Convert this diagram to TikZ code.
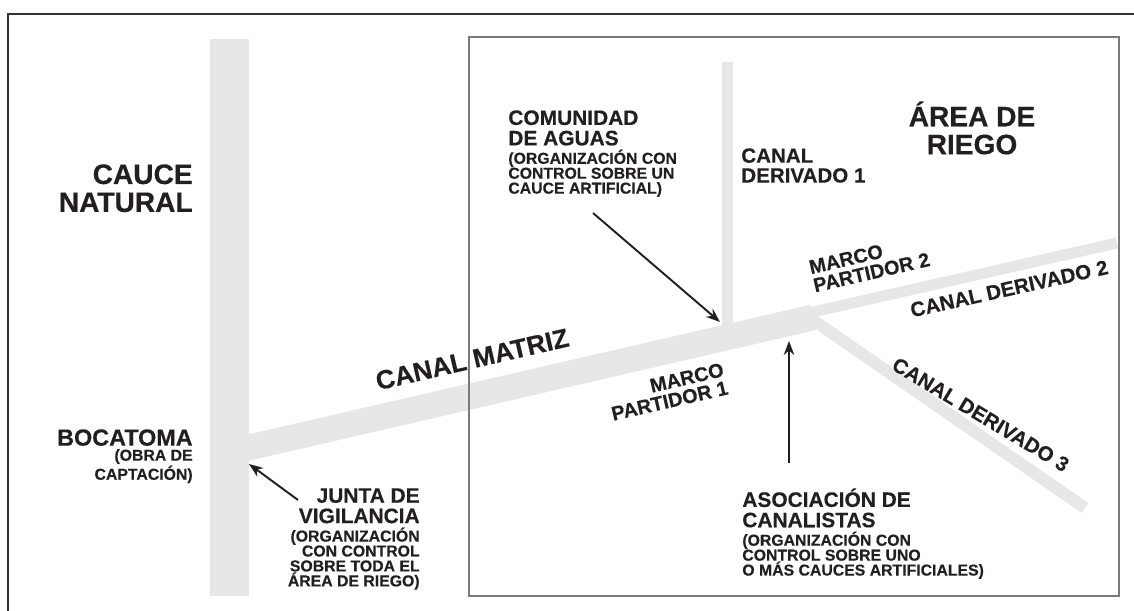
\documentclass[tikz,border=0pt]{standalone}
\usepackage{fontspec}
\setmainfont{Liberation Sans}[BoldFeatures={FakeBold=0.4}]
\usetikzlibrary{positioning,arrows.meta}
\definecolor{canalgray}{HTML}{E6E7E8}
\definecolor{boxgray}{HTML}{7A7A7A}
\definecolor{framedark}{HTML}{333333}
\definecolor{ink}{HTML}{231F20}
\tikzset{
  canal/.style={draw=canalgray,line cap=butt},
  bigtxt/.style={inner sep=0pt,text=ink,font=\fontsize{16}{15.9}\selectfont\bfseries},
  headtxt/.style={inner sep=0pt,text=ink,font=\fontsize{11.9}{11.6}\selectfont\bfseries},
  notetxt/.style={inner sep=0pt,text=ink,font=\fontsize{9}{8.5}\selectfont\bfseries},
  chantxt/.style={inner sep=0pt,text=ink,font=\fontsize{11.7}{11.3}\selectfont\bfseries},
  pointer/.style={-{Stealth[length=8pt,width=6pt]},line width=1.1pt,draw=ink},
}
\begin{document}
\begin{tikzpicture}[x=0.02cm,y=-0.02cm]
\useasboundingbox (0,0) rectangle (1134,611);
% outer frame (only top and left show)
\draw[framedark,line width=1.4pt] (1140,14) -- (8,14) -- (8,620);

% canals
\draw[canal,line width=22.1pt] (229.5,39) -- (229.5,596);
\draw[canal,line width=14.7pt] (240,449.6) -- (813,317.5);
\draw[canal,line width=6.8pt] (727.5,62) -- (727.5,332);
\draw[canal,line width=6.2pt] (810,312.7) -- (1117,243);
\draw[canal,line width=6.8pt] (810,318) -- (1085,508);

% irrigated area
\draw[boxgray,line width=0.85pt] (469,37) rectangle (1119,596);

% points on the canals
\coordinate (toma) at (249,464);
\coordinate (mp1) at (720,322);
\coordinate (mp2) at (789,341);

% labels
\node[bigtxt,anchor=north east,align=right] (cauce) at (193,164) {CAUCE\\NATURAL};
\node[bigtxt,anchor=north,align=center] (area) at (972,101) {ÁREA DE\\RIEGO};
\node[inner sep=0pt,text=ink,font=\fontsize{13.3}{13}\selectfont\bfseries,anchor=north east] (boca) at (193,429) {BOCATOMA};
\node[notetxt,align=right,below=1.5pt of boca.south east,anchor=north east] (bocanote) {(OBRA DE\\CAPTACIÓN)};

\node[headtxt,anchor=north east,align=right] (junta) at (420,488) {JUNTA DE\\VIGILANCIA};
\node[notetxt,align=right,below=2pt of junta.south east,anchor=north east] (juntanote) {(ORGANIZACIÓN\\CON CONTROL\\SOBRE TODA EL\\ÁREA DE RIEGO)};

\node[headtxt,anchor=north west,align=left] (comunidad) at (508,110) {COMUNIDAD\\DE AGUAS};
\node[notetxt,align=left,below=2pt of comunidad.south west,anchor=north west] (comunidadnote) {(ORGANIZACIÓN CON\\CONTROL SOBRE UN\\CAUCE ARTIFICIAL)};

\node[headtxt,anchor=north west,align=left] (asoc) at (742,488) {ASOCIACIÓN DE\\CANALISTAS};
\node[notetxt,align=left,below=2pt of asoc.south west,anchor=north west] (asocnote) {(ORGANIZACIÓN CON\\CONTROL SOBRE UNO\\O MÁS CAUCES ARTIFICIALES)};

\node[chantxt,anchor=north west,align=left] (der1) at (741,148) {CANAL\\DERIVADO 1};
\node[inner sep=0pt,text=ink,font=\fontsize{15}{14}\selectfont\bfseries,rotate=13,anchor=south west] (matriz) at (378,391) {CANAL MATRIZ};
\node[chantxt,font=\fontsize{11.3}{10.6}\selectfont\bfseries,rotate=13,anchor=north east,align=right] (marco1) at (722,362) {MARCO\\PARTIDOR 1};
\node[chantxt,font=\fontsize{11.3}{10.6}\selectfont\bfseries,rotate=13,anchor=south west,align=left] (marco2) at (815,293) {MARCO\\PARTIDOR 2};
\node[chantxt,rotate=12.5,anchor=south west] (der2) at (912,318) {CANAL DERIVADO 2};
\node[chantxt,rotate=-31,anchor=south west] (der3) at (890,369) {CANAL DERIVADO 3};

% pointers
\coordinate (juntatail) at (298,500);
\coordinate (comtail) at (593,213);
\coordinate (asoctail) at (789,463);
\draw[pointer] (juntatail) -- (toma);
\draw[pointer] (comtail) -- (mp1);
\draw[pointer] (asoctail) -- (mp2);
\end{tikzpicture}
\end{document}
